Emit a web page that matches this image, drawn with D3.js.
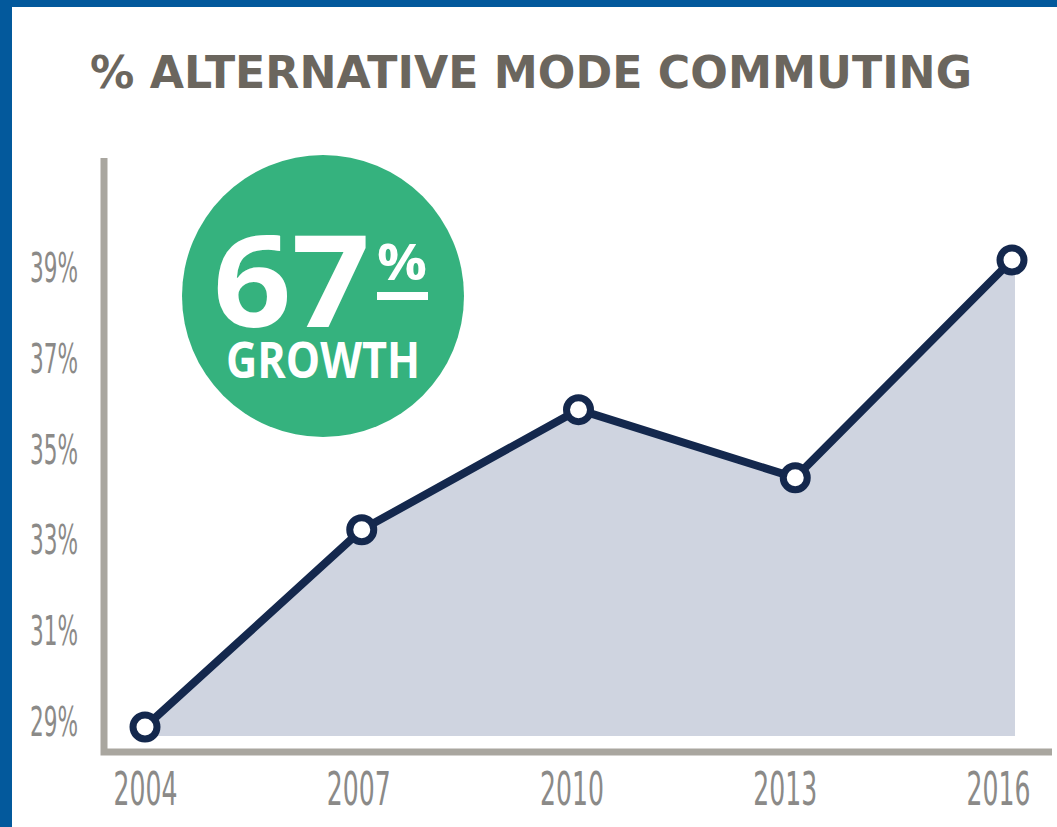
<!DOCTYPE html>
<html>
<head>
<meta charset="utf-8">
<script src="https://cdn.jsdelivr.net/npm/d3@7"></script>
<style>
  html, body { margin: 0; padding: 0; background: #fff; }
  svg { display: block; }
</style>
</head>
<body>
<svg id="chart"></svg>
<script>
// values
const years = [2004, 2007, 2010, 2013, 2016]
const shares = [28.9, 33.25, 35.9, 34.4, 39.2]
const yTicks = [29, 31, 33, 35, 37, 39]
const title = "% ALTERNATIVE MODE COMMUTING"
const badgeValue = "67"
const badgeLabel = "GROWTH"

const width = 1057
const height = 827

const navy = "#14284d"
const axisGrey = "#a9a69f"
const labelGrey = "#8b8a88"

const svg = d3.select("#chart")
  .attr("width", width)
  .attr("height", height)

svg.append("rect")
  .attr("width", width)
  .attr("height", height)
  .attr("fill", "#fff")

// blue frame, top and left only
svg.append("rect").attr("x", 0).attr("y", 0).attr("width", width).attr("height", 7).attr("fill", "#03599c")
svg.append("rect").attr("x", 0).attr("y", 0).attr("width", 12).attr("height", height).attr("fill", "#03599c")

svg.append("text")
  .attr("x", 90)
  .attr("y", 88)
  .attr("textLength", 882)
  .attr("lengthAdjust", "spacingAndGlyphs")
  .attr("font-family", "'DejaVu Sans', sans-serif")
  .attr("font-weight", 700)
  .attr("font-size", 45)
  .attr("fill", "#6b665e")
  .text(title)

const data = years.map((yr, i) => ({year: yr, value: shares[i]}))

const x = d3.scalePoint()
  .domain(years)
  .range([145, 1012])

// year labels sit a bit left of the points towards the right end
const xLabel = d3.scalePoint()
  .domain(years)
  .range([145, 998])

const y = d3.scaleLinear()
  .domain([28.35, 41.45])
  .range([752, 158])

const baseY = y.range()[0] - 16

// shaded area under the line
const area = d3.area()
  .x(d => x(d.year))
  .y0(baseY)
  .y1(d => y(d.value))

svg.append("path")
  .datum(data)
  .attr("d", area)
  .attr("fill", "#cfd4e0")

// right edge of the shading sits a little past the last point
svg.append("rect")
  .attr("x", x(2016))
  .attr("y", y(shares[shares.length - 1]))
  .attr("width", 3)
  .attr("height", baseY - y(shares[shares.length - 1]))
  .attr("fill", "#cfd4e0")

// axes
const yAxis = d3.axisLeft(y)
  .tickValues(yTicks)
  .tickSize(0)
  .tickPadding(26)
  .tickFormat(d => d + "%")

const gy = svg.append("g")
  .attr("transform", "translate(104,0)")
  .call(yAxis)
gy.select(".domain").remove()
gy.selectAll("text")
  .attr("font-family", "'Liberation Sans Narrow', 'DejaVu Sans Condensed', sans-serif")
  .attr("font-size", 40)
  .attr("fill", labelGrey)
  .attr("textLength", 48)
  .attr("lengthAdjust", "spacingAndGlyphs")

const xAxis = d3.axisBottom(xLabel)
  .tickSize(0)
  .tickPadding(20)
  .tickFormat(d => d)

const gx = svg.append("g")
  .attr("transform", "translate(0," + y.range()[0] + ")")
  .call(xAxis)
gx.select(".domain").remove()
gx.selectAll("text")
  .attr("font-family", "'Liberation Sans Narrow', 'DejaVu Sans Condensed', sans-serif")
  .attr("font-size", 46)
  .attr("fill", labelGrey)
  .attr("textLength", 64)
  .attr("lengthAdjust", "spacingAndGlyphs")

// L-shaped axis frame
svg.append("path")
  .attr("d", d3.line()([[104, y.range()[1]], [104, y.range()[0]], [1052, y.range()[0]]]))
  .attr("fill", "none")
  .attr("stroke", axisGrey)
  .attr("stroke-width", 7)

// data line
const line = d3.line()
  .x(d => x(d.year))
  .y(d => y(d.value))

svg.append("path")
  .datum(data)
  .attr("d", line)
  .attr("fill", "none")
  .attr("stroke", navy)
  .attr("stroke-width", 8)
  .attr("stroke-linejoin", "round")

svg.append("g")
  .selectAll("circle")
  .data(data)
  .enter().append("circle")
  .attr("cx", d => x(d.year))
  .attr("cy", d => y(d.value))
  .attr("r", 12)
  .attr("fill", "#fff")
  .attr("stroke", navy)
  .attr("stroke-width", 7)

// growth badge
const badge = svg.append("g")
  .attr("transform", "translate(323,296)")

badge.append("circle")
  .attr("r", 141)
  .attr("fill", "#35b27e")

badge.append("text")
  .attr("x", -110)
  .attr("y", 31)
  .attr("textLength", 157)
  .attr("lengthAdjust", "spacingAndGlyphs")
  .attr("font-family", "'Open Sans', sans-serif")
  .attr("font-weight", 700)
  .attr("font-size", 127)
  .attr("fill", "#fff")
  .text(badgeValue)

badge.append("text")
  .attr("x", 54)
  .attr("y", -16)
  .attr("textLength", 50)
  .attr("lengthAdjust", "spacingAndGlyphs")
  .attr("font-family", "'Open Sans', sans-serif")
  .attr("font-weight", 700)
  .attr("font-size", 50)
  .attr("fill", "#fff")
  .text("%")

badge.append("rect")
  .attr("x", 54)
  .attr("y", -4)
  .attr("width", 51)
  .attr("height", 8)
  .attr("fill", "#fff")

badge.append("text")
  .attr("x", -97)
  .attr("y", 82)
  .attr("textLength", 194)
  .attr("lengthAdjust", "spacingAndGlyphs")
  .attr("font-family", "'Open Sans', sans-serif")
  .attr("font-weight", 700)
  .attr("font-size", 50)
  .attr("fill", "#fff")
  .text(badgeLabel)
</script>
</body>
</html>
